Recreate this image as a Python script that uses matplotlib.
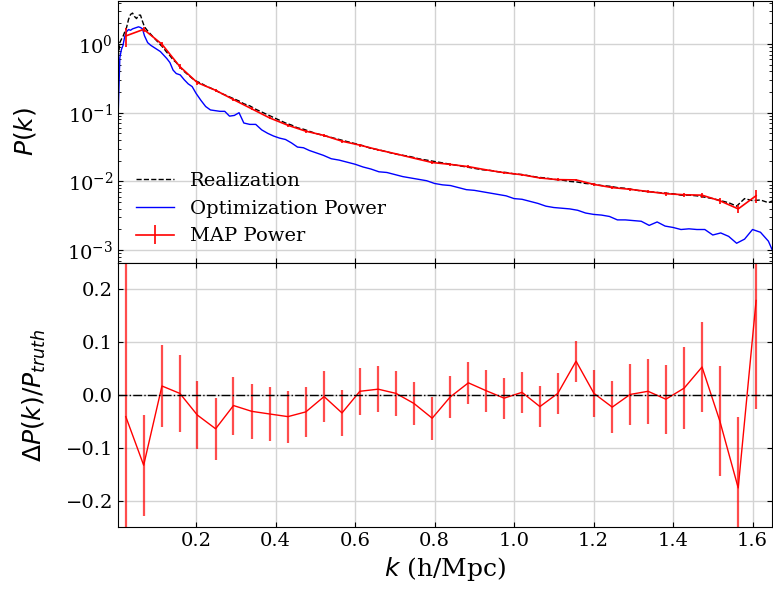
import numpy as np
import matplotlib
matplotlib.use('Agg')
import matplotlib.pyplot as plt

plt.rcParams['font.family'] = 'serif'
plt.rcParams['font.serif'] = ['DejaVu Serif']
plt.rcParams['mathtext.fontset'] = 'dejavusans'

# fine k grid for realization / optimization spectra (h/Mpc)
k_fine = [0.004, 0.008, 0.012, 0.016, 0.020, 0.025, 0.030, 0.035, 0.040, 0.045,
          0.050, 0.055, 0.060, 0.065, 0.070, 0.078, 0.086, 0.094, 0.102, 0.110,
          0.118, 0.126, 0.134, 0.142, 0.150, 0.160, 0.170, 0.180, 0.190, 0.200,
          0.212, 0.224, 0.236, 0.248, 0.260, 0.272, 0.284, 0.296, 0.308, 0.320,
          0.335, 0.350, 0.365, 0.380, 0.395, 0.410, 0.425, 0.440, 0.455, 0.470,
          0.485, 0.500, 0.52, 0.54, 0.56, 0.58, 0.60, 0.62, 0.64, 0.66,
          0.68, 0.70, 0.72, 0.74, 0.76, 0.78, 0.80, 0.82, 0.84, 0.86,
          0.88, 0.90, 0.92, 0.94, 0.96, 0.98, 1.00, 1.02, 1.04, 1.06,
          1.08, 1.10, 1.12, 1.14, 1.16, 1.18, 1.20, 1.22, 1.24, 1.26,
          1.28, 1.30, 1.32, 1.34, 1.36, 1.38, 1.40, 1.42, 1.44, 1.46,
          1.48, 1.50, 1.52, 1.54, 1.56, 1.58, 1.60, 1.62, 1.64, 1.649]

# log10 P(k) of the realization (black dashed)
real_logP = [-0.20, 0.02, 0.07, 0.11, 0.17, 0.24, 0.36, 0.43, 0.45, 0.40,
             0.37, 0.42, 0.42, 0.33, 0.25, 0.19, 0.14, 0.09, 0.04, -0.01,
             -0.06, -0.12, -0.17, -0.23, -0.27, -0.34, -0.40, -0.45, -0.50, -0.54,
             -0.57, -0.61, -0.64, -0.67, -0.71, -0.74, -0.77, -0.80, -0.83, -0.87,
             -0.90, -0.95, -0.99, -1.03, -1.07, -1.11, -1.15, -1.18, -1.22, -1.24,
             -1.27, -1.30, -1.33, -1.36, -1.39, -1.42, -1.45, -1.48, -1.52, -1.54,
             -1.57, -1.60, -1.62, -1.64, -1.67, -1.69, -1.71, -1.73, -1.75, -1.77,
             -1.79, -1.81, -1.83, -1.84, -1.86, -1.87, -1.89, -1.90, -1.92, -1.94,
             -1.95, -1.97, -1.98, -2.00, -2.01, -2.03, -2.04, -2.06, -2.07, -2.09,
             -2.10, -2.12, -2.14, -2.15, -2.16, -2.17, -2.18, -2.20, -2.20, -2.21,
             -2.23, -2.25, -2.28, -2.31, -2.36, -2.25, -2.28, -2.27, -2.31, -2.285]

# log10 P(k) of the optimization result (blue)
opt_logP = [-1.00, -0.20, -0.08, -0.02, 0.10, 0.18, 0.21, 0.20, 0.22, 0.23,
            0.24, 0.25, 0.24, 0.22, 0.12, 0.02, -0.02, -0.05, -0.08, -0.11,
            -0.16, -0.21, -0.27, -0.38, -0.43, -0.45, -0.52, -0.58, -0.62, -0.72,
            -0.82, -0.91, -0.96, -0.97, -0.98, -0.98, -1.05, -1.04, -1.00, -1.15,
            -1.17, -1.17, -1.25, -1.30, -1.34, -1.37, -1.39, -1.44, -1.50, -1.51,
            -1.55, -1.58, -1.62, -1.67, -1.69, -1.72, -1.75, -1.79, -1.82, -1.86,
            -1.87, -1.90, -1.93, -1.95, -1.97, -1.99, -2.03, -2.05, -2.06, -2.09,
            -2.12, -2.13, -2.15, -2.17, -2.19, -2.21, -2.25, -2.26, -2.29, -2.32,
            -2.36, -2.38, -2.39, -2.40, -2.42, -2.46, -2.48, -2.49, -2.51, -2.56,
            -2.56, -2.57, -2.58, -2.64, -2.59, -2.65, -2.67, -2.70, -2.69, -2.70,
            -2.70, -2.78, -2.75, -2.80, -2.90, -2.84, -2.70, -2.74, -2.87, -2.99]

# band centres for the MAP estimate
k_bins = [0.023, 0.068, 0.114, 0.159, 0.203, 0.249, 0.294, 0.340, 0.385, 0.431,
          0.476, 0.522, 0.567, 0.612, 0.658, 0.703, 0.748, 0.794, 0.839, 0.885,
          0.930, 0.975, 1.020, 1.065, 1.110, 1.156, 1.201, 1.247, 1.292, 1.337,
          1.382, 1.428, 1.473, 1.518, 1.564, 1.609]

map_logP = [0.117, 0.213, -0.003, -0.329, -0.562, -0.674, -0.809, -0.944, -1.076, -1.183,
            -1.269, -1.331, -1.415, -1.472, -1.540, -1.599, -1.662, -1.725, -1.752, -1.785,
            -1.832, -1.873, -1.903, -1.950, -1.974, -1.978, -2.044, -2.090, -2.115, -2.147,
            -2.179, -2.194, -2.200, -2.282, -2.400, -2.208]

# fractional difference to the truth and its error
frac_diff = [-0.041, -0.133, 0.017, 0.003, -0.038, -0.064, -0.020, -0.031, -0.036, -0.041,
             -0.032, -0.003, -0.034, 0.007, 0.011, 0.003, -0.016, -0.044, -0.004, 0.023,
             0.008, -0.006, 0.005, -0.022, 0.003, 0.064, 0.003, -0.023, 0.001, 0.007,
             -0.008, 0.013, 0.053, -0.050, -0.176, 0.179]
frac_err = [0.31, 0.096, 0.077, 0.073, 0.065, 0.059, 0.055, 0.052, 0.051, 0.049,
            0.048, 0.048, 0.044, 0.045, 0.044, 0.042, 0.041, 0.041, 0.040, 0.040,
            0.040, 0.039, 0.039, 0.039, 0.039, 0.039, 0.044, 0.049, 0.057, 0.062,
            0.065, 0.077, 0.086, 0.104, 0.135, 0.205]

real_P = 10 ** np.array(real_logP)
opt_P = 10 ** np.array(opt_logP)
map_P = 10 ** np.array(map_logP)
map_err = map_P * np.array(frac_err)

fig = plt.figure(figsize=(7.73, 6.0), dpi=100)
ax1 = fig.add_axes([0.1527, 0.5617, 0.8460, 0.4367])
ax2 = fig.add_axes([0.1527, 0.1217, 0.8460, 0.4400], sharex=ax1)

# 上图：功率谱
ax1.plot(k_fine, real_P, 'k--', lw=1, label='Realization')
ax1.plot(k_fine, opt_P, color='b', lw=1, label='Optimization Power')
ax1.errorbar(k_bins, map_P, yerr=map_err, color='r', lw=1.2, elinewidth=1.2,
             label='MAP Power')
ax1.set_yscale('log')
ax1.set_ylim(6.5e-4, 4.23)
ax1.set_ylabel(r'$P(k)$', fontsize=18)
ax1.yaxis.set_label_coords(-0.122, 0.5)
ax1.legend(loc='lower left', frameon=False, fontsize=14)
ax1.tick_params(labelbottom=False)

# 下图：相对误差
ax2.axhline(0, color='k', ls='-.', lw=1, zorder=3)
eb = ax2.errorbar(k_bins, frac_diff, yerr=frac_err, color='r', lw=1, elinewidth=1.6)
eb[2][0].set_alpha(0.7)
ax2.set_ylim(-0.25, 0.25)
ax2.set_yticks([-0.2, -0.1, 0.0, 0.1, 0.2])
ax2.set_ylabel(r'$\Delta P(k)/P_{truth}$', fontsize=18)
ax2.yaxis.set_label_coords(-0.107, 0.5)
ax2.set_xlabel(r'$k$ (h/Mpc)', fontsize=18)

ax2.set_xlim(0.0035, 1.649)
ax2.set_xticks([0.2, 0.4, 0.6, 0.8, 1.0, 1.2, 1.4, 1.6])

for ax in (ax1, ax2):
    ax.grid(True, color='#d3d3d3', lw=1)
    ax.tick_params(which='both', direction='in', top=True, right=True, labelsize=14)
    ax.set_axisbelow(True)

fig.savefig('out.png', dpi=100)
